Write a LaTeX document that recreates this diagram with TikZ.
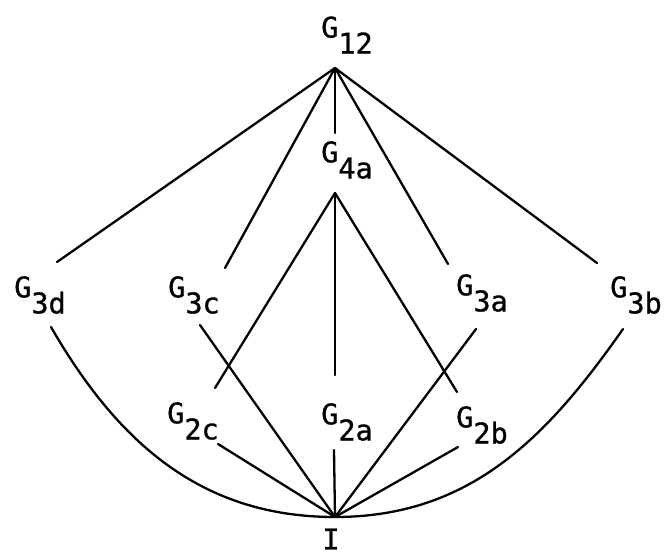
\documentclass[tikz,border=0pt]{standalone}
\usepackage{fontspec}
\setmonofont[FakeBold=0.9]{DejaVu Sans Mono}
\usetikzlibrary{positioning}

\newcommand{\gsub}[1]{G\raisebox{-16pt}{#1}}

\begin{document}
\begin{tikzpicture}[x=1pt, y=-1pt]
        \tikzstyle{grp} = [inner sep=0pt, font=\ttfamily\fontsize{28.5}{28.5}\selectfont]
        \tikzstyle{line} = [line width=2.3pt, line cap=round]

        \useasboundingbox (0,0) rectangle (666,556);

        % labels
        \node (g12) [grp] at (347,35) {\gsub{12}};
        \node (g4a) [grp] at (347,160) {\gsub{4a}};
        \node (g3d) [grp] at (40,295) {\gsub{3d}};
        \node (g3c) [grp] at (194,295) {\gsub{3c}};
        \node (g3a) [grp] at (482,293) {\gsub{3a}};
        \node (g3b) [grp] at (636,295) {\gsub{3b}};
        \node (g2c) [grp] at (193,421) {\gsub{2c}};
        \node (g2a) [grp] at (347,422) {\gsub{2a}};
        \node (g2b) [grp] at (482,425) {\gsub{2b}};
        \node (i) [grp] at (331,539) {I};

        % meeting points and line ends
        \coordinate (top) at (335,68);
        \coordinate (mid) at (335,193);
        \coordinate (bot) at (335,517);
        \coordinate (g4a-u) at (335,133);
        \coordinate (g3d-u) at (57,262);
        \coordinate (g3c-u) at (225,268);
        \coordinate (g3a-u) at (448,264);
        \coordinate (g3b-u) at (597,263);
        \coordinate (g2c-u) at (215,388);
        \coordinate (g2a-u) at (335,375);
        \coordinate (g2b-u) at (457,392);
        \coordinate (g3d-d) at (51,327);
        \coordinate (g3c-d) at (200,325);
        \coordinate (g2c-d) at (218,444);
        \coordinate (g2a-d) at (334,450);
        \coordinate (g2b-d) at (458,447);
        \coordinate (g3a-d) at (476,329);
        \coordinate (g3b-d) at (623,329);

        \foreach \e in {g3d-u, g3c-u, g4a-u, g3a-u, g3b-u}
            \draw [line] (top) -- (\e);
        \foreach \e in {g2c-u, g2a-u, g2b-u}
            \draw [line] (mid) -- (\e);
        \foreach \e in {g3c-d, g2c-d, g2a-d, g2b-d, g3a-d}
            \draw [line] (\e) -- (bot);
        \draw [line] (g3d-d) to[out=-60, in=180] (bot);
        \draw [line] (g3b-d) to[out=-125, in=0] (bot);
    \end{tikzpicture}
\end{document}
